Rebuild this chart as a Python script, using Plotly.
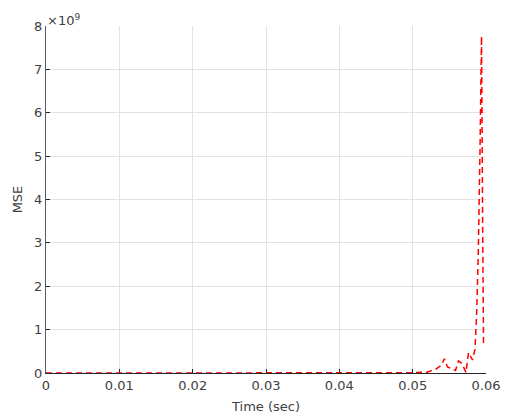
import plotly.graph_objects as go

# MSE over time (seconds); values in units of 1e9
time_sec = [0.0, 0.0100, 0.0200, 0.0300, 0.0400, 0.04746, 0.04964, 0.05195,
            0.05318, 0.05393, 0.05432, 0.05475, 0.05536, 0.05584, 0.05625,
            0.05673, 0.05727, 0.05761, 0.05816, 0.05850, 0.05873, 0.05895,
            0.05918, 0.05939, 0.05954, 0.05966]
mse_e9 = [0.0, 0.0, 0.0, 0.0, 0.0, 0.0, 0.005, 0.02,
          0.09, 0.18, 0.33, 0.14, 0.10, 0.06, 0.28,
          0.22, 0.01, 0.47, 0.30, 0.55, 1.40, 2.80,
          5.10, 7.77, 3.50, 0.69]

x_ticks = [0, 0.01, 0.02, 0.03, 0.04, 0.05, 0.06]
x_tick_labels = ["0", "0.01", "0.02", "0.03", "0.04", "0.05", "0.06"]
y_ticks = [0, 1, 2, 3, 4, 5, 6, 7, 8]
y_tick_labels = ["0", "1", "2", "3", "4", "5", "6", "7", "8"]
scale = 1e9

mse = [v * scale for v in mse_e9]

fig = go.Figure()
fig.add_trace(go.Scatter(
    x=time_sec, y=mse, mode="lines",
    line=dict(color="#ff0000", width=1.5, dash="6px,4px"),
    showlegend=False,
))

font = "DejaVu Sans"
text_color = "#404040"
fig.update_layout(
    width=532, height=420,
    margin=dict(l=46, r=46, t=26, b=47),
    paper_bgcolor="white", plot_bgcolor="white",
    font=dict(family=font, size=13, color=text_color),
    xaxis=dict(
        range=[0, 0.06],
        tickvals=x_ticks, ticktext=x_tick_labels,
        tickfont=dict(size=13, color=text_color),
        showgrid=True, gridcolor="#e3e3e3", gridwidth=1,
        zeroline=False,
        showline=True, linecolor="#262626", linewidth=1,
        ticks="inside", ticklen=4, tickcolor="#262626",
        layer="below traces",
        automargin=False,
        title=dict(text="Time (sec)", font=dict(size=13, color=text_color), standoff=10),
    ),
    yaxis=dict(
        range=[0, 8 * scale],
        tickvals=[v * scale for v in y_ticks], ticktext=y_tick_labels,
        tickfont=dict(size=13, color=text_color),
        showgrid=True, gridcolor="#e3e3e3", gridwidth=1,
        zeroline=False,
        showline=True, linecolor="#5a5a5a", linewidth=1,
        ticks="inside", ticklen=4, tickcolor="#262626",
        layer="below traces",
        automargin=False,
        title=dict(text="MSE", font=dict(size=13, color=text_color), standoff=8),
    ),
    annotations=[dict(
        text="×10<sup>9</sup>", xref="paper", yref="paper",
        x=0, y=1, xanchor="left", yanchor="bottom", showarrow=False,
        font=dict(family=font, size=13, color=text_color), xshift=-1, yshift=-4,
    )],
)

fig.write_html("out.html")
